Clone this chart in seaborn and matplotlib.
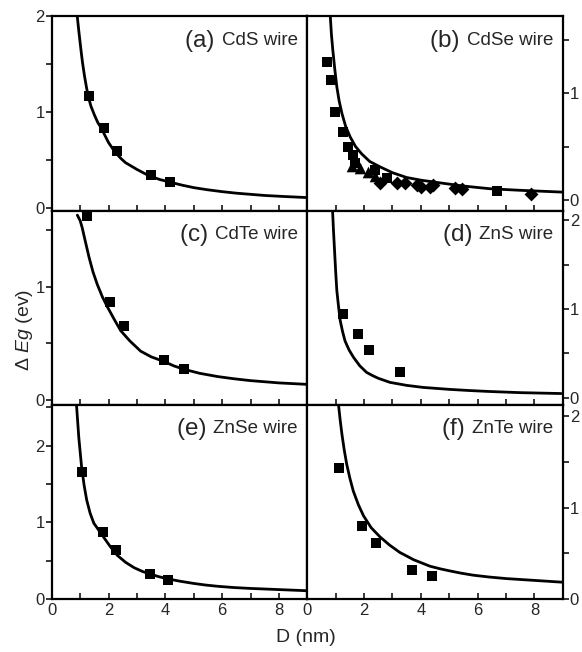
import matplotlib
matplotlib.use("Agg")
import matplotlib.pyplot as plt
from matplotlib.ticker import MultipleLocator
import seaborn as sns

# ---------------- data ----------------
# (a) CdS
cds_D = [1.31, 1.84, 2.30, 3.48, 4.18]
cds_E = [1.17, 0.83, 0.59, 0.34, 0.27]
cds_fit_D = [0.897, 0.95, 1.027, 1.08, 1.15, 1.22, 1.286, 1.38, 1.5, 1.62, 1.758, 1.88, 2.0, 2.23, 2.45, 2.6, 2.8, 3.0, 3.41, 3.8, 4.18, 4.6, 5.0, 5.475, 6.0, 6.5, 7.0, 7.5, 8.2, 9.0]
cds_fit_E = [2.0, 1.85, 1.65, 1.52, 1.38, 1.26, 1.16, 1.06, 0.97, 0.89, 0.825, 0.75, 0.68, 0.58, 0.51, 0.47, 0.435, 0.40, 0.336, 0.295, 0.266, 0.235, 0.21, 0.188, 0.168, 0.152, 0.14, 0.128, 0.117, 0.106]

# (b) CdSe
cdse_sq_D = [0.69, 0.83, 0.98, 1.27, 1.45, 1.62, 1.68, 2.39, 2.80, 6.68]
cdse_sq_E = [1.29, 1.12, 0.82, 0.64, 0.50, 0.42, 0.35, 0.28, 0.21, 0.08]
cdse_tri_D = [1.58, 1.86, 2.14, 2.40]
cdse_tri_E = [0.32, 0.30, 0.26, 0.22]
cdse_dia_D = [2.56, 3.15, 3.44, 3.85, 4.02, 4.32, 4.43, 5.19, 5.46, 7.87]
cdse_dia_E = [0.16, 0.16, 0.155, 0.136, 0.12, 0.12, 0.136, 0.11, 0.105, 0.058]
cdse_fit_D = [0.81, 0.85, 0.90, 0.97, 1.04, 1.12, 1.22, 1.35, 1.51, 1.7, 1.92, 2.2, 2.56, 3.0, 3.5, 4.0, 4.67, 5.5, 6.42, 7.5, 9.0]
cdse_fit_E = [1.72, 1.55, 1.40, 1.22, 1.06, 0.93, 0.81, 0.69, 0.59, 0.50, 0.43, 0.36, 0.31, 0.255, 0.21, 0.185, 0.16, 0.13, 0.105, 0.09, 0.073]

# (c) CdTe
cdte_D = [1.23, 2.05, 2.56, 3.94, 4.66]
cdte_E = [1.62, 0.86, 0.65, 0.354, 0.27]
cdte_fit_D = [0.90, 1.0, 1.07, 1.18, 1.31, 1.45, 1.6, 1.78, 1.96, 2.2, 2.43, 2.75, 3.13, 3.5, 3.94, 4.3, 4.66, 5.2, 5.84, 6.4, 7.0, 8.0, 9.0]
cdte_fit_E = [1.63, 1.58, 1.52, 1.40, 1.26, 1.13, 1.02, 0.91, 0.82, 0.71, 0.61, 0.52, 0.43, 0.38, 0.34, 0.30, 0.27, 0.235, 0.206, 0.187, 0.17, 0.15, 0.137]

# (d) ZnS
zns_D = [1.27, 1.77, 2.19, 3.26]
zns_E = [0.94, 0.72, 0.54, 0.29]
zns_fit_D = [0.89, 0.92, 0.96, 1.0, 1.04, 1.10, 1.16, 1.24, 1.33, 1.47, 1.63, 1.85, 2.09, 2.3, 2.5, 2.91, 3.5, 4.08, 5.0, 5.7, 6.42, 7.5, 8.94]
zns_fit_E = [2.11, 1.90, 1.66, 1.42, 1.21, 1.03, 0.87, 0.75, 0.64, 0.54, 0.455, 0.36, 0.286, 0.25, 0.22, 0.174, 0.14, 0.117, 0.095, 0.082, 0.071, 0.058, 0.048]

# (e) ZnSe
znse_D = [1.07, 1.82, 2.25, 3.45, 4.11]
znse_E = [1.65, 0.87, 0.64, 0.33, 0.25]
znse_fit_D = [0.87, 0.95, 1.05, 1.14, 1.23, 1.35, 1.48, 1.65, 1.84, 2.05, 2.31, 2.6, 2.9, 3.2, 3.45, 3.75, 4.08, 4.5, 5.0, 5.4, 5.84, 6.4, 7.0, 8.0, 9.0]
znse_fit_E = [2.53, 2.11, 1.72, 1.48, 1.29, 1.12, 0.99, 0.90, 0.80, 0.69, 0.57, 0.48, 0.41, 0.36, 0.33, 0.295, 0.265, 0.235, 0.205, 0.185, 0.168, 0.152, 0.14, 0.125, 0.11]

# (f) ZnTe
znte_D = [1.13, 1.94, 2.42, 3.70, 4.40]
znte_E = [1.43, 0.80, 0.61, 0.32, 0.25]
znte_fit_D = [1.10, 1.16, 1.22, 1.30, 1.39, 1.50, 1.62, 1.8, 1.98, 2.25, 2.56, 2.9, 3.26, 3.75, 4.32, 4.7, 5.0, 5.4, 5.84, 6.4, 7.0, 8.0, 9.0]
znte_fit_E = [2.12, 1.95, 1.80, 1.63, 1.47, 1.32, 1.18, 1.03, 0.91, 0.78, 0.68, 0.59, 0.51, 0.43, 0.36, 0.33, 0.31, 0.285, 0.262, 0.242, 0.225, 0.205, 0.185]

tags = ["(a)", "(b)", "(c)", "(d)", "(e)", "(f)"]
names = ["CdS wire", "CdSe wire", "CdTe wire", "ZnS wire", "ZnSe wire", "ZnTe wire"]
ylims = [(-0.03, 2.0), (-0.1, 1.72), (-0.044, 1.67), (-0.08, 2.11), (0.0, 2.53), (0.0, 2.12)]

# ---------------- style ----------------
sns.set_style("ticks")
plt.rcParams["font.family"] = ["Liberation Sans", "DejaVu Sans"]
plt.rcParams["mathtext.fontset"] = "custom"
plt.rcParams["mathtext.it"] = "Liberation Sans:italic"
plt.rcParams["mathtext.rm"] = "Liberation Sans"

fig, axes = plt.subplots(3, 2, figsize=(5.82, 6.52), dpi=100)
fig.subplots_adjust(left=0.089, right=0.967, top=0.975, bottom=0.081, hspace=0, wspace=0)
axs = axes.flatten()

fits = [(cds_fit_D, cds_fit_E), (cdse_fit_D, cdse_fit_E), (cdte_fit_D, cdte_fit_E),
        (zns_fit_D, zns_fit_E), (znse_fit_D, znse_fit_E), (znte_fit_D, znte_fit_E)]
pts = [(cds_D, cds_E), (cdse_sq_D, cdse_sq_E), (cdte_D, cdte_E),
       (zns_D, zns_E), (znse_D, znse_E), (znte_D, znte_E)]

for i, ax in enumerate(axs):
    fd, fe = fits[i]
    line = sns.lineplot(x=fd, y=fe, ax=ax, color="black", linewidth=2.0, sort=False,
                        estimator=None, zorder=2)
    for ln in ax.lines:
        ln.set_solid_joinstyle("round")
    pd_, pe = pts[i]
    sns.scatterplot(x=pd_, y=pe, ax=ax, marker="s", s=52, color="black",
                    linewidth=0, zorder=3)
    if i == 1:
        sns.scatterplot(x=cdse_tri_D, y=cdse_tri_E, ax=ax, marker="^", s=70,
                        color="black", linewidth=0, zorder=3)
        sns.scatterplot(x=cdse_dia_D, y=cdse_dia_E, ax=ax, marker="D", s=50,
                        color="black", linewidth=0, zorder=3)
    ax.set_xlim(0, 9)
    ax.set_ylim(*ylims[i])
    ax.set_xlabel("")
    ax.set_ylabel("")
    ax.xaxis.set_major_locator(MultipleLocator(2))
    ax.xaxis.set_minor_locator(MultipleLocator(1))
    ax.yaxis.set_major_locator(MultipleLocator(1))
    ax.yaxis.set_minor_locator(MultipleLocator(0.5))
    row = i // 2
    right = (i % 2 == 1)
    ax.tick_params(axis="x", which="both", direction="in", top=False, bottom=True,
                   length=4, width=1.3, labelbottom=(row == 2), labelsize=12, pad=3)
    if right:
        ax.tick_params(axis="y", which="both", direction="out", left=False, right=True,
                       labelleft=False, labelright=True, length=4, width=1.3,
                       labelsize=12, pad=1)
    else:
        ax.tick_params(axis="y", which="both", direction="out", left=True, right=False,
                       labelleft=True, labelright=False, length=4, width=1.3,
                       labelsize=12, pad=1)
    for sp in ax.spines.values():
        sp.set_visible(True)
        sp.set_linewidth(1.6)
        sp.set_color("black")
    name = ax.text(0.962, 0.878, names[i], transform=ax.transAxes, ha="right",
                   va="center", fontsize=13.5)
    ax.annotate(tags[i] + " ", xy=(0, 0.45), xycoords=name, ha="right", va="center",
                fontsize=17.5)

fig.text(0.042, 0.494, "Δ $\\mathit{Eg}$ (ev)", rotation=90, ha="center", va="center",
         fontsize=14)
fig.text(0.526, 0.022, "D (nm)", ha="center", va="center", fontsize=14)

fig.savefig("out.png", dpi=100)
